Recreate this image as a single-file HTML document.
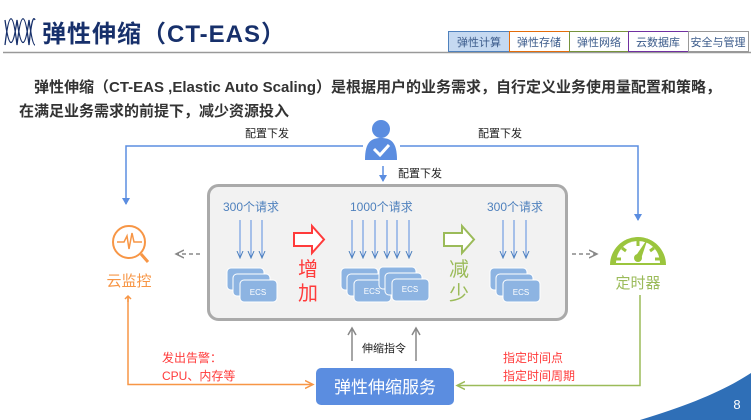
<!DOCTYPE html>
<html><head><meta charset="utf-8"><style>
body{margin:0;width:751px;height:420px;overflow:hidden;background:#fff;font-family:"Liberation Sans","Noto Sans CJK SC",sans-serif;position:relative}
.a{position:absolute;white-space:nowrap}
</style></head><body>
<svg width="751" height="420" style="position:absolute;left:0;top:0" font-family="Liberation Sans, Noto Sans CJK SC, sans-serif">
<defs>
<marker id="mb" markerWidth="8" markerHeight="8" refX="6" refY="4" orient="auto" markerUnits="userSpaceOnUse"><path d="M0,0 L7,4 L0,8" fill="#5b8de0"/></marker>
<marker id="mbl" markerWidth="8" markerHeight="8" refX="7" refY="4" orient="auto" markerUnits="userSpaceOnUse"><path d="M0,1 L7,4 L0,7" fill="none" stroke="#4f81bd" stroke-width="1"/></marker>
<marker id="mg" markerWidth="10" markerHeight="10" refX="8" refY="5" orient="auto" markerUnits="userSpaceOnUse"><path d="M0,1 L8,5 L0,9" fill="none" stroke="#888" stroke-width="1.5"/></marker>
<marker id="mo" markerWidth="10" markerHeight="10" refX="8" refY="5" orient="auto" markerUnits="userSpaceOnUse"><path d="M0,1 L8,5 L0,9" fill="none" stroke="#f79646" stroke-width="1.5"/></marker>
<marker id="mgr" markerWidth="10" markerHeight="10" refX="8" refY="5" orient="auto" markerUnits="userSpaceOnUse"><path d="M0,1 L8,5 L0,9" fill="none" stroke="#9bbb59" stroke-width="1.5"/></marker>
<g id="ecs"><rect x="0" y="0" width="37" height="22" rx="4" fill="#8db4e2" stroke="#fff"/><rect x="6" y="6" width="37" height="22" rx="4" fill="#8db4e2" stroke="#fff"/><rect x="13" y="12" width="37" height="22" rx="4" fill="#8db4e2" stroke="#fff"/></g>
</defs>
<g fill="none" stroke="#17306b" stroke-width="1.3">
<path d="M5,45 C9,10 13,10 17,45 C21,10 25,10 29,45 C31,25 33,15 35,20"/>
<path d="M5,20 C9,50 13,50 17,20 C21,50 25,50 29,20 C31,35 33,45 35,45"/>
</g>
<line x1="3" y1="52.5" x2="751" y2="52.5" stroke="#999" stroke-width="1.5"/>
<rect x="448.5" y="31.5" width="61" height="20" fill="#c5d9f1" stroke="#4f81bd"/>
<rect x="509.5" y="31.5" width="60" height="20" fill="#fff" stroke="#e46c0a"/>
<rect x="569.5" y="31.5" width="59" height="20" fill="#fff" stroke="#77933c"/>
<rect x="628.5" y="31.5" width="60" height="20" fill="#fff" stroke="#7030a0"/>
<rect x="688.5" y="31.5" width="60" height="20" fill="#fff" stroke="#999"/>
<g font-size="11" fill="#3a5a8a" text-anchor="middle">
<text x="479" y="46">弹性计算</text><text x="539" y="46">弹性存储</text><text x="599" y="46">弹性网络</text><text x="658" y="46">云数据库</text><text x="718" y="46">安全与管理</text></g>
<circle cx="381" cy="129" r="9" fill="#5b8de0"/>
<path d="M365,160 C365,142 371,138 381,138 C391,138 397,142 397,160 Z" fill="#5b8de0"/>
<path d="M374,149 L380,155 L389,145" fill="none" stroke="#fff" stroke-width="3"/>
<path d="M363,146 H126 V204" fill="none" stroke="#5b8de0" stroke-width="1.5" marker-end="url(#mb)"/>
<path d="M400,146 H638 V220" fill="none" stroke="#5b8de0" stroke-width="1.5" marker-end="url(#mb)"/>
<line x1="383" y1="166" x2="383" y2="181" stroke="#5b8de0" stroke-width="1.5" marker-end="url(#mb)"/>
<g font-size="11" fill="#222"><text x="245" y="137">配置下发</text><text x="478" y="137">配置下发</text><text x="398" y="177">配置下发</text></g>
<rect x="208.5" y="185.5" width="358" height="134" rx="10" fill="#f2f2f2" stroke="#aaa" stroke-width="3"/>
<g font-size="12" fill="#4f81bd"><text x="223" y="211">300个请求</text><text x="350" y="211">1000个请求</text><text x="487" y="211">300个请求</text></g>
<g stroke="#5b8de0" stroke-width="1" marker-end="url(#mbl)">
<line x1="240" y1="220" x2="240" y2="258"/><line x1="251" y1="220" x2="251" y2="258"/><line x1="262" y1="220" x2="262" y2="258"/>
<line x1="352" y1="220" x2="352" y2="258"/><line x1="363" y1="220" x2="363" y2="258"/><line x1="375" y1="220" x2="375" y2="258"/><line x1="387" y1="220" x2="387" y2="258"/><line x1="397" y1="220" x2="397" y2="258"/><line x1="409" y1="220" x2="409" y2="258"/>
<line x1="503" y1="220" x2="503" y2="258"/><line x1="514" y1="220" x2="514" y2="258"/><line x1="526" y1="220" x2="526" y2="258"/>
</g>
<use href="#ecs" x="227" y="268"/>
<use href="#ecs" x="341" y="268"/>
<use href="#ecs" x="379" y="267"/>
<use href="#ecs" x="490" y="268"/>
<g font-size="8" fill="#fff" text-anchor="middle"><text x="258" y="295">ECS</text><text x="372" y="294">ECS</text><text x="410" y="292">ECS</text><text x="521" y="295">ECS</text></g>
<path d="M294,233 H312 V226 L324,239.5 L312,253 V246 H294 Z" fill="#fff" stroke="#ff3b3b" stroke-width="2"/>
<path d="M444,233 H462 V226 L474,239.5 L462,253 V246 H444 Z" fill="#fff" stroke="#9bbb59" stroke-width="2"/>
<g font-size="20" fill="#ff3b3b" text-anchor="middle"><text x="308" y="276">增</text><text x="308" y="300">加</text></g>
<g font-size="20" fill="#9bbb59" text-anchor="middle"><text x="459" y="276">减</text><text x="459" y="300">少</text></g>
<line x1="200" y1="254" x2="176" y2="254" stroke="#888" stroke-width="1.5" stroke-dasharray="4,3" marker-end="url(#mg)"/>
<line x1="572" y1="254" x2="597" y2="254" stroke="#888" stroke-width="1.5" stroke-dasharray="4,3" marker-end="url(#mg)"/>
<circle cx="129" cy="242" r="16" fill="none" stroke="#f79646" stroke-width="2"/>
<line x1="141" y1="254" x2="148" y2="262" stroke="#f79646" stroke-width="3"/>
<path d="M117,242 H124 L127,236 L129,249 L132,233 L134,242 H142" fill="none" stroke="#f79646" stroke-width="1.5"/>
<text x="129" y="286" font-size="15" fill="#f79646" text-anchor="middle">云监控</text>
<path d="M610,265 A28,28 0 0 1 666,265 Z" fill="#9bc53d"/>
<path d="M616,263 A22,22 0 0 1 660,263 Z" fill="#fff"/>
<g stroke="#9bc53d" stroke-width="3"><line x1="638" y1="241" x2="638" y2="246"/><line x1="622" y1="248" x2="626" y2="251"/><line x1="654" y1="248" x2="650" y2="251"/><line x1="616" y1="259" x2="621" y2="259"/><line x1="660" y1="259" x2="655" y2="259"/></g>
<path d="M635,257 L648,238 L641,259 Z" fill="#9bc53d"/><circle cx="638" cy="258" r="4" fill="#9bc53d"/>
<text x="638" y="288" font-size="15" fill="#9bbb59" text-anchor="middle">定时器</text>
<path d="M128,298 V384.5 H313" fill="none" stroke="#f79646" stroke-width="1.5" marker-end="url(#mo)"/>
<path d="M128,302 L128,296 M125,299 L128,296 L131,299" fill="none" stroke="#f79646" stroke-width="1.5"/>
<path d="M640,295 V385.5 H457" fill="none" stroke="#9bbb59" stroke-width="1.5" marker-end="url(#mgr)"/>
<g stroke="#888" stroke-width="1.5" fill="none"><line x1="352" y1="361" x2="352" y2="328"/><line x1="416" y1="361" x2="416" y2="328"/><path d="M348,335 L352,328 L356,335 M412,335 L416,328 L420,335"/></g>
<text x="362" y="352" font-size="11" fill="#222">伸缩指令</text>
<g font-size="12" fill="#ff3b3b"><text x="162" y="362">发出告警：</text><text x="162" y="380">CPU、内存等</text><text x="503" y="362">指定时间点</text><text x="503" y="380">指定时间周期</text></g>
<rect x="316" y="368" width="138" height="37" rx="5" fill="#5b8de0"/>
<text x="385" y="393" font-size="17" fill="#fff" text-anchor="middle">弹性伸缩服务</text>
<path d="M640,420 C690,405 725,390 751,373 V420 Z" fill="#2f6fb7"/>
<text x="737" y="409" font-size="13" fill="#fff" text-anchor="middle">8</text>
</svg>
<div class="a" style="left:42px;top:14px;font-size:24px;font-weight:bold;color:#17306b;letter-spacing:1px">弹性伸缩（CT-EAS）</div>
<div class="a" style="left:34px;top:76px;font-size:15px;font-weight:bold;color:#333">弹性伸缩（CT-EAS ,Elastic Auto Scaling）是根据用户的业务需求，自行定义业务使用量配置和策略，</div>
<div class="a" style="left:19px;top:100px;font-size:15px;font-weight:bold;color:#333">在满足业务需求的前提下，减少资源投入</div>
</body></html>
